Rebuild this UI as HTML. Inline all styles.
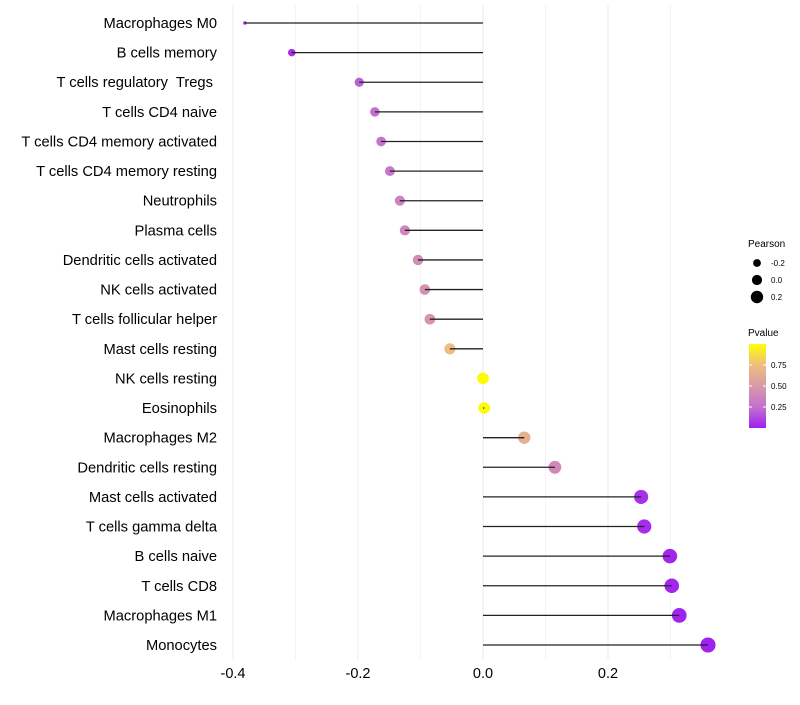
<!DOCTYPE html>
<html><head><meta charset="utf-8"><style>
body{margin:0;background:#fff;font-family:"Liberation Sans",sans-serif;}
</style></head><body>
<svg id="chart" width="800" height="700" xmlns="http://www.w3.org/2000/svg" font-family="Liberation Sans, sans-serif">
<defs><linearGradient id="pg" x1="0" y1="1" x2="0" y2="0">
<stop offset="0" stop-color="#a020f0"/><stop offset="0.25" stop-color="#c470d0"/><stop offset="0.5" stop-color="#d99aa8"/><stop offset="0.75" stop-color="#eebd80"/><stop offset="1" stop-color="#ffff00"/></linearGradient></defs>
<g id="grid"></g><g id="dots"></g><g id="stems"></g><g id="labels"></g>
<g>
<text x="748" y="247" font-size="10">Pearson</text>
<circle cx="757" cy="263" r="3.9" fill="#000"/><text x="771" y="266" font-size="8">-0.2</text>
<circle cx="757" cy="280" r="5.1" fill="#000"/><text x="771" y="283" font-size="8">0.0</text>
<circle cx="757" cy="297" r="6.2" fill="#000"/><text x="771" y="300" font-size="8">0.2</text>
</g>
<g>
<text x="748" y="336" font-size="10">Pvalue</text>
<rect x="749" y="344" width="17" height="84" fill="url(#pg)"/>
<line x1="749" y1="365" x2="752" y2="365" stroke="#fff"/><line x1="763" y1="365" x2="766" y2="365" stroke="#fff"/>
<line x1="749" y1="386" x2="752" y2="386" stroke="#fff"/><line x1="763" y1="386" x2="766" y2="386" stroke="#fff"/>
<line x1="749" y1="407" x2="752" y2="407" stroke="#fff"/><line x1="763" y1="407" x2="766" y2="407" stroke="#fff"/>
<text x="771" y="368" font-size="8">0.75</text><text x="771" y="389" font-size="8">0.50</text><text x="771" y="410" font-size="8">0.25</text>
</g>
</svg>
<script>
const categories=["Macrophages M0","B cells memory","T cells regulatory  Tregs ","T cells CD4 naive","T cells CD4 memory activated","T cells CD4 memory resting","Neutrophils","Plasma cells","Dendritic cells activated","NK cells activated","T cells follicular helper","Mast cells resting","NK cells resting","Eosinophils","Macrophages M2","Dendritic cells resting","Mast cells activated","T cells gamma delta","B cells naive","T cells CD8","Macrophages M1","Monocytes"];
const pearson=[-0.381,-0.306,-0.198,-0.173,-0.163,-0.149,-0.133,-0.125,-0.104,-0.093,-0.085,-0.053,0.0,0.002,0.066,0.115,0.253,0.258,0.299,0.302,0.314,0.36];
const pvalue=[0.02,0.05,0.2,0.25,0.27,0.3,0.35,0.38,0.42,0.45,0.47,0.75,0.99,0.98,0.65,0.4,0.05,0.04,0.02,0.02,0.01,0.003];
const xTicks=[-0.4,-0.2,0.0,0.2];
const xGrid=[-0.4,-0.3,-0.2,-0.1,0,0.1,0.2,0.3];
const NS="http://www.w3.org/2000/svg";
const x=v=>483+625*v;
const y=i=>23+i*(622/21);
const rad=v=>{const a=34+64*v;return a<12?Math.max(1.6,Math.sqrt(a)*0.55):Math.sqrt(a);};
const stops=[[0,[160,32,240]],[0.25,[196,112,208]],[0.5,[217,154,168]],[0.75,[238,189,128]],[1,[255,255,0]]];
function col(p){for(let k=0;k<stops.length-1;k++){const [a,ca]=stops[k],[b,cb]=stops[k+1];if(p<=b){const t=(p-a)/(b-a);return `rgb(${ca.map((c,j)=>Math.round(c+(cb[j]-c)*t)).join(',')})`;}}return 'rgb(255,255,0)';}
function mk(tag,attrs,parent){const e=document.createElementNS(NS,tag);for(const k in attrs)e.setAttribute(k,attrs[k]);parent.appendChild(e);return e;}
const grid=document.getElementById('grid'),dots=document.getElementById('dots'),stems=document.getElementById('stems'),labels=document.getElementById('labels');
xGrid.forEach((v,k)=>{const l=mk('line',{x1:x(v),x2:x(v),y1:5,y2:660,stroke:k%2===0?'#ebebeb':'#f3f3f3','stroke-width':1},grid);

});
xTicks.forEach(v=>{const t=mk('text',{x:x(v),y:678,'font-size':14.5,'text-anchor':'middle',fill:'#000'},labels);t.textContent=v.toFixed(1);

});
categories.forEach((c,i)=>{
const t=mk('text',{x:217,y:y(i)+5,'font-size':14.7,'text-anchor':'end',fill:'#000',style:'white-space:pre'},labels);t.textContent=c;


const d=mk('circle',{cx:x(pearson[i]),cy:y(i),r:rad(pearson[i]),fill:col(pvalue[i])},dots);


const l=mk('line',{x1:x(0),x2:x(pearson[i]),y1:y(i),y2:y(i),stroke:'#222','stroke-width':1.3},stems);


});
</script>
</body></html>
